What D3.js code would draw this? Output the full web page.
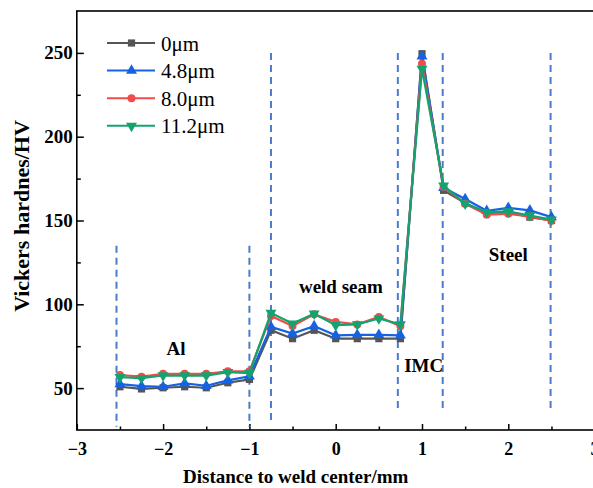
<!DOCTYPE html>
<html>
<head>
<meta charset="utf-8">
<script src="https://cdn.jsdelivr.net/npm/d3@7"></script>
<style>
  body { margin: 0; background: #fff; }
  text { font-family: "Liberation Serif", "Times New Roman", serif; }
</style>
</head>
<body>
<div id="chart"></div>
<script>
// distance to weld center (mm)
var xs = [-2.5, -2.25, -2, -1.75, -1.5, -1.25, -1, -0.75, -0.5, -0.25, 0, 0.25, 0.5, 0.75, 1, 1.25, 1.5, 1.75, 2, 2.25, 2.5];

var hv0 = [50.8, 49.5, 50.2, 50.8, 50.2, 53.2, 55.2, 84.5, 79.5, 84.5, 79.5, 79.5, 79.5, 79.5, 249.5, 168, 160.5, 154.5, 155, 152, 150];
var hv48 = [52.4, 51.2, 50.8, 52.8, 51.4, 54.6, 57, 86.5, 82.5, 87, 81.5, 81.8, 81.8, 81.5, 248, 169.5, 162.8, 155.8, 157.5, 156, 152];
var hv80 = [57.8, 56.8, 58.5, 58.5, 58.5, 60, 60, 93, 87, 94, 89.5, 88, 92.5, 87, 243.5, 170, 160, 153.5, 154, 152.5, 149.8];
var hv112 = [56.5, 56, 57.5, 57.5, 57.5, 59.5, 59, 94.8, 88.5, 94.4, 87.5, 88, 91.5, 88, 240.5, 170.8, 160, 155, 155.4, 153, 150.5];

var seriesNames = ["0\u03bcm", "4.8\u03bcm", "8.0\u03bcm", "11.2\u03bcm"];

var xTicks = [-3, -2, -1, 0, 1, 2, 3];
var xMinor = [-2.5, -1.5, -0.5, 0.5, 1.5, 2.5];
var yTicks = [50, 100, 150, 200, 250];
var yMinor = [75, 125, 175, 225];

// zone boundaries (dashed lines)
var divX = [-2.54, -1, -0.75, 0.72, 1.24, 2.49];
var divTop = [135, 135, 250, 250, 250, 250];
var divBottom = [27, 27, 31, 37, 37, 37];

var zoneNames = ["Al", "weld seam", "IMC", "Steel"];
var zoneX = [-1.85, 0.06, 1.02, 2.0];
var zoneY = [69.5, 106.5, 59.5, 126];

var w = 593, h = 488;
var colors = ["#555555", "#1563e3", "#f24b4b", "#13a36e"];
var shapes = [d3.symbolSquare, d3.symbolTriangle, d3.symbolCircle, d3.symbolTriangle];
var rotate = [0, 0, 0, 180];
var sizes = [52, 52, 50, 52];

var svg = d3.select("#chart").append("svg")
    .attr("width", w)
    .attr("height", h);

var x = d3.scaleLinear().domain([-3, 3]).range([76.8, 594.6]);
var y = d3.scaleLinear().domain([25, 275]).range([430, 11]);

// frame
svg.append("rect")
    .attr("x", x(-3)).attr("y", y(275))
    .attr("width", x(3) - x(-3)).attr("height", y(25) - y(275))
    .attr("fill", "none").attr("stroke", "#000").attr("stroke-width", 1.6);

// ticks
var xAxis = svg.append("g")
    .attr("transform", "translate(0," + y(25) + ")")
    .call(d3.axisBottom(x).tickValues(xTicks).tickSizeInner(-6).tickSizeOuter(0).tickPadding(12)
      .tickFormat(function (d) { return d < 0 ? "\u2212" + Math.abs(d) : d; }));
var xAxisMinor = svg.append("g")
    .attr("transform", "translate(0," + y(25) + ")")
    .call(d3.axisBottom(x).tickValues(xMinor).tickSizeInner(-3.5).tickSizeOuter(0).tickFormat(""));
var yAxis = svg.append("g")
    .attr("transform", "translate(" + x(-3) + ",0)")
    .call(d3.axisLeft(y).tickValues(yTicks).tickSizeInner(-7).tickSizeOuter(0).tickPadding(4));
var yAxisMinor = svg.append("g")
    .attr("transform", "translate(" + x(-3) + ",0)")
    .call(d3.axisLeft(y).tickValues(yMinor).tickSizeInner(-4).tickSizeOuter(0).tickFormat(""));

svg.selectAll(".domain").remove();
svg.selectAll(".tick line").attr("stroke", "#000").attr("stroke-width", 1.5);
svg.selectAll(".tick text")
    .style("font-family", "'Liberation Serif', serif")
    .style("font-weight", "bold")
    .style("font-size", "18px")
    .attr("fill", "#000");
yAxis.selectAll(".tick text").style("font-size", "19px");

// dashed zone lines
svg.selectAll(".div").data(divX).enter().append("line")
    .attr("x1", function (d) { return x(d); })
    .attr("x2", function (d) { return x(d); })
    .attr("y1", function (d, i) { return y(divTop[i]); })
    .attr("y2", function (d, i) { return y(divBottom[i]); })
    .attr("stroke", "#4a7cc9")
    .attr("stroke-width", 2)
    .style("stroke-dasharray", ("7,5"));

// zone labels
svg.selectAll(".zone").data(zoneNames).enter().append("text")
    .attr("x", function (d, i) { return x(zoneX[i]); })
    .attr("y", function (d, i) { return y(zoneY[i]); })
    .attr("text-anchor", "middle")
    .style("font-weight", "bold")
    .style("font-size", "19px")
    .text(function (d) { return d; });

// series
var allSeries = [hv0, hv48, hv80, hv112];
var line = d3.line()
    .x(function (d, i) { return x(xs[i]); })
    .y(function (d) { return y(d); });

allSeries.forEach(function (vals, k) {
  var g = svg.append("g");
  g.append("path")
      .datum(vals)
      .attr("d", line)
      .attr("fill", "none")
      .attr("stroke", colors[k])
      .attr("stroke-width", 2.2);
  g.selectAll("path.m").data(vals).enter().append("path")
      .attr("class", "m")
      .attr("d", d3.symbol().type(shapes[k]).size(sizes[k]))
      .attr("transform", function (d, i) {
        return "translate(" + x(xs[i]) + "," + y(d) + ") rotate(" + rotate[k] + ")";
      })
      .attr("fill", colors[k]);
});

// legend
var legend = svg.append("g").attr("transform", "translate(107,43)");
seriesNames.forEach(function (name, k) {
  var row = legend.append("g").attr("transform", "translate(0," + (k * 27.6) + ")");
  row.append("line")
      .attr("x1", 0).attr("x2", 48).attr("y1", 0).attr("y2", 0)
      .attr("stroke", colors[k]).attr("stroke-width", 2);
  row.append("path")
      .attr("d", d3.symbol().type(shapes[k]).size(sizes[k]))
      .attr("transform", "translate(24.5,0) rotate(" + rotate[k] + ")")
      .attr("fill", colors[k]);
  row.append("text")
      .attr("x", 54).attr("y", 7.5)
      .style("font-size", "21px")
      .text(name);
});

// axis titles
svg.append("text")
    .attr("x", (x(-3) + x(3)) / 2 - 40)
    .attr("y", 483)
    .attr("text-anchor", "middle")
    .style("font-weight", "bold")
    .style("font-size", "19px")
    .text("Distance to weld center/mm");

svg.append("text")
    .attr("transform", "translate(29,216) rotate(-90)")
    .attr("text-anchor", "middle")
    .style("font-weight", "bold")
    .style("font-size", "22px")
    .text("Vickers hardnes/HV");
</script>
</body>
</html>
